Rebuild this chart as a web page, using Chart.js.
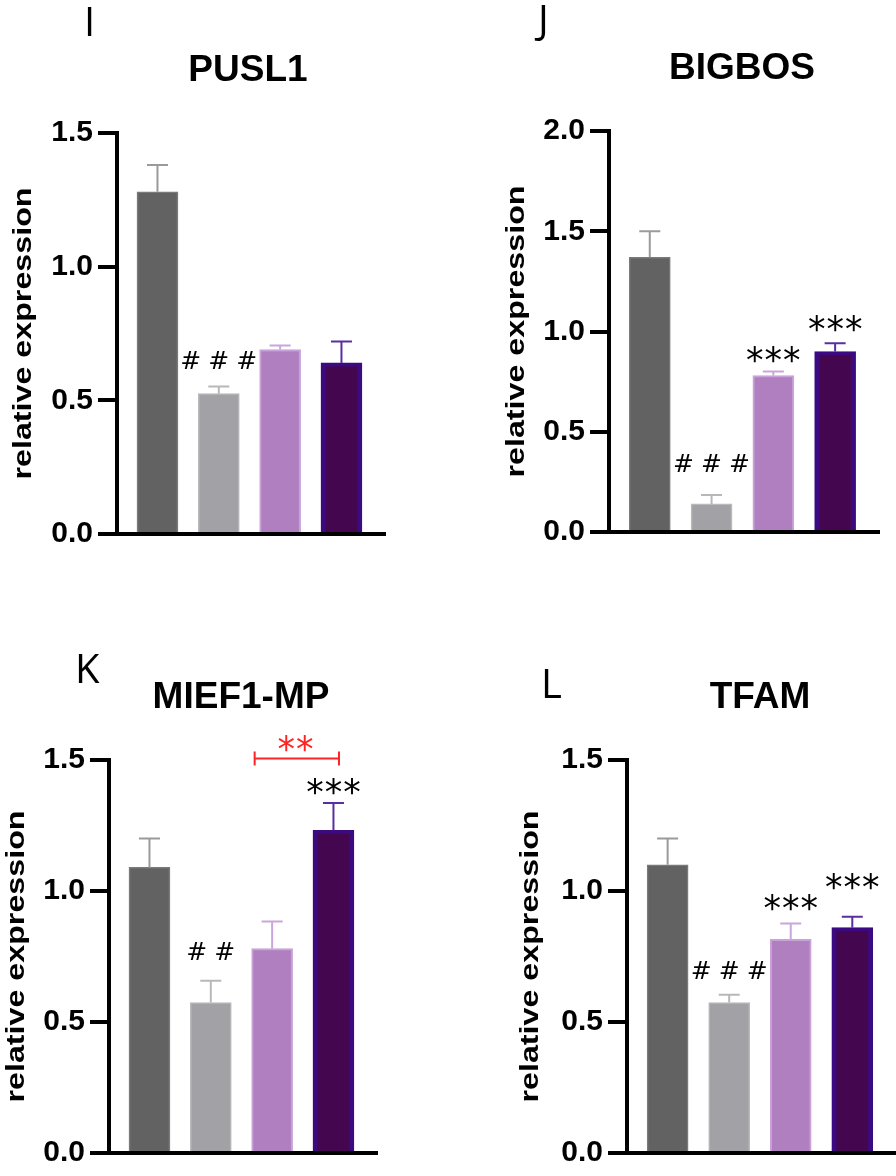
<!DOCTYPE html>
<html>
<head>
<meta charset="utf-8">
<script src="https://cdn.jsdelivr.net/npm/chart.js@4.4.1/dist/chart.umd.min.js"></script>
<style>
html,body{margin:0;padding:0;background:#fff;}
#wrap{position:relative;width:896px;height:1176px;overflow:hidden;}
canvas{position:absolute;}
</style>
</head>
<body>
<div id="wrap">
  <canvas id="cI" width="448" height="588" style="left:0;top:0"></canvas>
  <canvas id="cJ" width="448" height="588" style="left:448px;top:0"></canvas>
  <canvas id="cK" width="448" height="588" style="left:0;top:588px"></canvas>
  <canvas id="cL" width="448" height="588" style="left:448px;top:588px"></canvas>
</div>
<script>
// ---- data ----
const categories = ['1', '2', '3', '4'];           // four unlabeled groups

const pusl1Mean  = [1.28, 0.525, 0.69, 0.64];
const pusl1Err   = [0.10, 0.027, 0.015, 0.08];
const pusl1Ticks = [0.0, 0.5, 1.0, 1.5];
const pusl1Marks = [{i: 1, text: '###', y: 0.65}];

const bigbosMean  = [1.37, 0.14, 0.78, 0.90];
const bigbosErr   = [0.13, 0.045, 0.02, 0.042];
const bigbosTicks = [0.0, 0.5, 1.0, 1.5, 2.0];
const bigbosMarks = [{i: 1, text: '###', y: 0.344}, {i: 2, text: '***', y: 0.898}, {i: 3, text: '***', y: 1.05}];

const mief1Mean  = [1.09, 0.574, 0.78, 1.232];
const mief1Err   = [0.11, 0.083, 0.104, 0.104];
const mief1Ticks = [0.0, 0.5, 1.0, 1.5];
const mief1Marks = [{i: 1, text: '##', y: 0.772}, {i: 3, text: '***', y: 1.41}];
const mief1Bracket = {from: 1.715, to: 3.09, y: 1.506, text: '**', textX: 2.38, textY: 1.574};

const tfamMean  = [1.10, 0.574, 0.816, 0.86];
const tfamErr   = [0.10, 0.03, 0.06, 0.042];
const tfamTicks = [0.0, 0.5, 1.0, 1.5];
const tfamMarks = [{i: 1, text: '###', y: 0.70}, {i: 2, text: '***', y: 0.965}, {i: 3, text: '***', y: 1.044}];

// ---- styles ----
const barFill    = ['#626262', '#a2a1a6', '#b07fbf', '#43064f'];
const barBorder  = ['#7a7a7a', '#b9b9bd', '#c9a2da', '#3b0a80'];
const barBorderW = [1.5, 1.5, 2, {left: 5, right: 5, top: 4, bottom: 0}];
const errColor   = ['#9a9a9a', '#b8b8b8', '#caa6dc', '#5a2ea0'];

function spaced(ctx, text, cx, baseY, pitch) {
  const n = text.length;
  for (let k = 0; k < n; k++) ctx.fillText(text[k], cx + (k - (n - 1) / 2) * pitch, baseY);
}
function drawMark(ctx, text, cx, cy, color) {
  ctx.save();
  ctx.fillStyle = color || '#000';
  ctx.textAlign = 'center';
  ctx.textBaseline = 'alphabetic';
  if (text[0] === '#') {
    const s = 25; ctx.font = s + 'px "DejaVu Sans"';
    spaced(ctx, text, cx, cy + 0.36 * s, 28);
  } else {
    const s = 35; ctx.font = s + 'px "DejaVu Sans"';
    spaced(ctx, text, cx, cy + 0.57 * s, 18.5);
  }
  ctx.restore();
}

const decor = {
  id: 'decor',
  afterDatasetsDraw(chart, args, o) {
    const ctx = chart.ctx, xs = chart.scales.x, ys = chart.scales.y;
    // error bars (upper only)
    o.mean.forEach((m, i) => {
      const x = xs.getPixelForValue(i);
      const y0 = ys.getPixelForValue(m), y1 = ys.getPixelForValue(m + o.err[i]);
      ctx.save();
      ctx.strokeStyle = errColor[i]; ctx.lineWidth = 2;
      ctx.beginPath();
      ctx.moveTo(x, y0); ctx.lineTo(x, y1);
      ctx.moveTo(x - 10.5, y1); ctx.lineTo(x + 10.5, y1);
      ctx.stroke();
      ctx.restore();
    });
    // significance marks
    (o.marks || []).forEach(mk => {
      drawMark(ctx, mk.text, xs.getPixelForValue(mk.i), ys.getPixelForValue(mk.y), '#000');
    });
    if (o.bracket) {
      const b = o.bracket, red = '#ff2424';
      const x1 = xs.getPixelForValue(b.from), x2 = xs.getPixelForValue(b.to), y = ys.getPixelForValue(b.y);
      ctx.save();
      ctx.strokeStyle = red; ctx.lineWidth = 2;
      ctx.beginPath();
      ctx.moveTo(x1, y); ctx.lineTo(x2, y);
      ctx.moveTo(x1, y - 7); ctx.lineTo(x1, y + 7);
      ctx.moveTo(x2, y - 7); ctx.lineTo(x2, y + 7);
      ctx.stroke();
      ctx.restore();
      drawMark(ctx, b.text, xs.getPixelForValue(b.textX), ys.getPixelForValue(b.textY), red);
    }
  },
  afterDraw(chart, args, o) {
    const ctx = chart.ctx, ca = chart.chartArea;
    ctx.save();
    ctx.fillStyle = '#000';
    // panel letter
    ctx.font = '40px "Open Sans"';
    ctx.textAlign = 'left'; ctx.textBaseline = 'alphabetic';
    ctx.fillText(o.letter, o.letterPos[0], o.letterPos[1]);
    // title
    ctx.font = 'bold 37px "Liberation Sans"';
    ctx.textAlign = 'center';
    ctx.fillText(o.title, o.titlePos[0], o.titlePos[1]);
    // y-axis title (stretched along its length)
    const cy = (ca.top + ca.bottom) / 2;
    ctx.translate(o.ytX, cy);
    ctx.rotate(-Math.PI / 2);
    ctx.font = 'bold 25px "Liberation Sans"';
    const w = ctx.measureText('relative expression').width;
    ctx.scale(292 / w, 1);
    ctx.textBaseline = 'middle';
    ctx.fillText('relative expression', 0, 0);
    ctx.restore();
  }
};

function makeChart(id, cfg) {
  const data = cfg.mean.map((v, i) => ({x: i, y: v}));
  return new Chart(document.getElementById(id), {
    type: 'bar',
    data: {
      labels: categories,
      datasets: [{
        data: data,
        backgroundColor: barFill,
        borderColor: barBorder,
        borderWidth: barBorderW,
        borderSkipped: 'start',
        barThickness: 41
      }]
    },
    options: {
      responsive: false,
      animation: false,
      layout: {padding: cfg.pad},
      plugins: {
        legend: {display: false},
        tooltip: {enabled: false},
        decor: {
          mean: cfg.mean, err: cfg.err, marks: cfg.marks, bracket: cfg.bracket,
          letter: cfg.letter, letterPos: cfg.letterPos, title: cfg.title, titlePos: cfg.titlePos, ytX: cfg.ytX
        }
      },
      scales: {
        x: {
          type: 'linear', min: -0.66, max: 3.71, offset: false,
          ticks: {display: false},
          grid: {display: false},
          border: {display: true, color: '#000', width: 4},
          afterFit: s => { s.height = 0; }
        },
        y: {
          min: cfg.ticks[0], max: cfg.ticks[cfg.ticks.length - 1],
          afterBuildTicks: s => { s.ticks = cfg.ticks.map(v => ({value: v})); },
          ticks: {
            color: '#000', padding: 5,
            font: {family: '"Liberation Sans", Arial, sans-serif', size: 30, weight: 'bold'},
            callback: v => Number(v).toFixed(1)
          },
          grid: {display: true, drawOnChartArea: false, drawTicks: true, tickLength: 19, tickWidth: 4, tickColor: '#000', color: '#000', lineWidth: 4},
          border: {display: true, color: '#000', width: 4},
          afterFit: s => { s.width = cfg.yw; }
        }
      }
    },
    plugins: [decor]
  });
}

makeChart('cI', {mean: pusl1Mean, err: pusl1Err, ticks: pusl1Ticks, marks: pusl1Marks,
  pad: {left: 0, top: 133, right: 63, bottom: 54}, yw: 117,
  letter: 'I', letterPos: [84, 36], title: 'PUSL1', titlePos: [248, 81], ytX: 24});
makeChart('cJ', {mean: bigbosMean, err: bigbosErr, ticks: bigbosTicks, marks: bigbosMarks,
  pad: {left: 0, top: 131, right: 17, bottom: 56}, yw: 161,
  letter: 'J', letterPos: [90, 34], title: 'BIGBOS', titlePos: [294, 79], ytX: 69});
makeChart('cK', {mean: mief1Mean, err: mief1Err, ticks: mief1Ticks, marks: mief1Marks, bracket: mief1Bracket,
  pad: {left: 0, top: 172, right: 71, bottom: 13}, yw: 109,
  letter: 'K', letterPos: [75, 95], title: 'MIEF1-MP', titlePos: [241, 120], ytX: 17});
makeChart('cL', {mean: tfamMean, err: tfamErr, ticks: tfamTicks, marks: tfamMarks,
  pad: {left: 0, top: 172, right: 0, bottom: 15}, yw: 179,
  letter: 'L', letterPos: [93, 110], title: 'TFAM', titlePos: [312, 120], ytX: 83});
</script>
</body>
</html>
